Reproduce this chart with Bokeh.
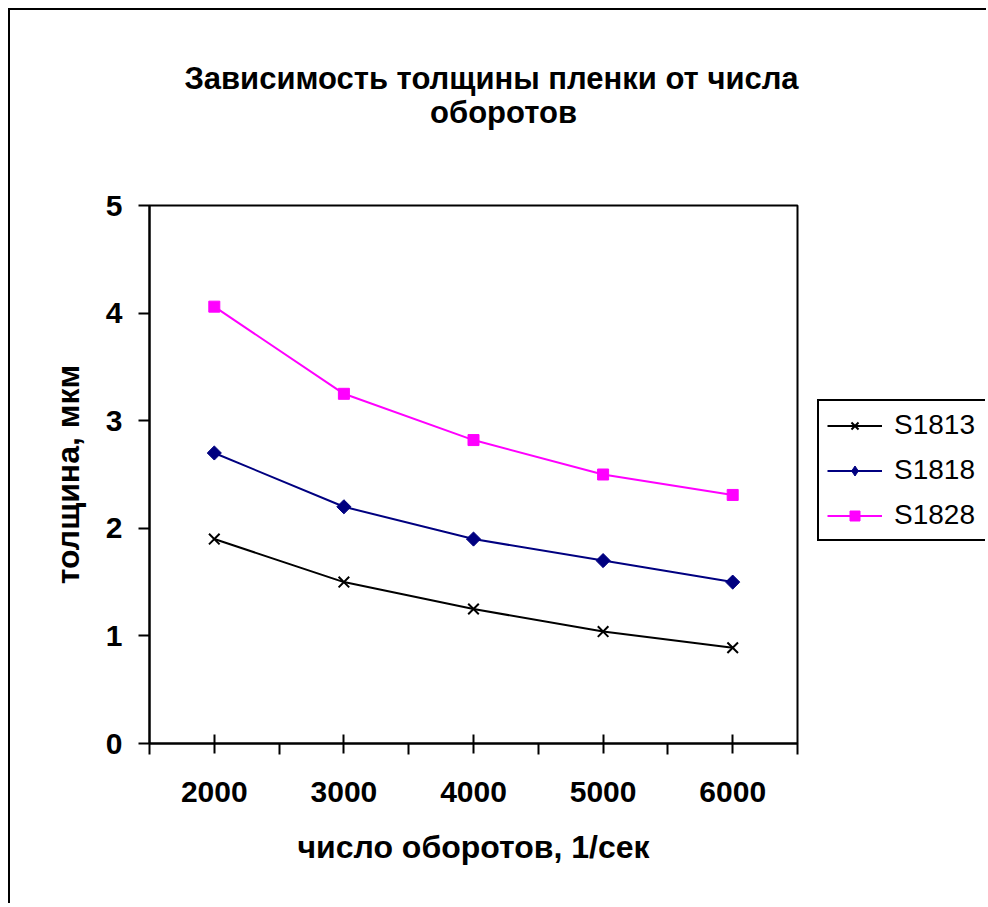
import math
from bokeh.plotting import figure
from bokeh.models import Range1d, FixedTicker, Legend, LegendItem
from bokeh.layouts import row, column
from bokeh.embed import file_html
from bokeh.resources import INLINE

rpm = [2000, 3000, 4000, 5000, 6000]
boundaries = [1500, 2500, 3500, 4500, 5500, 6500]
s1813 = [1.9, 1.5, 1.25, 1.04, 0.89]
s1818 = [2.7, 2.2, 1.9, 1.7, 1.5]
s1828 = [4.06, 3.25, 2.82, 2.5, 2.31]
y_ticks = [0, 1, 2, 3, 4, 5]
series_names = ["S1813", "S1818", "S1828"]
title_lines = ["Зависимость толщины пленки от числа", "оборотов"]

FONT = "Liberation Sans"
NAVY = "#000080"
MAGENTA = "#FF00FF"

# ---- title strip (pixel-like coordinates, y downward) ----
pt = figure(width=976, height=130, output_backend="svg", toolbar_location=None,
            x_range=Range1d(0, 976), y_range=Range1d(130, 0),
            x_axis_type=None, y_axis_type=None,
            min_border_left=0, min_border_right=0, min_border_top=0, min_border_bottom=0)
pt.grid.visible = False
pt.outline_line_color = None
pt.background_fill_color = "white"
pt.border_fill_color = "white"
pt.text(x=[481, 493], y=[68, 102], text=title_lines, text_align="center",
        text_baseline="middle", text_font_size="31px", text_font_style="bold",
        text_color="black", text_font={"value": FONT})

# ---- main plot ----
p = figure(frame_width=648, frame_height=538, output_backend="svg", toolbar_location=None,
           x_range=Range1d(1500, 6500), y_range=Range1d(0, 5),
           min_border_left=139, min_border_top=65, min_border_right=10,
           min_border_bottom=160, title=None)

p.grid.visible = False
p.outline_line_color = "black"
p.outline_line_width = 2
p.background_fill_color = "white"
p.border_fill_color = "white"

xa = p.xaxis[0]
xa.ticker = FixedTicker(ticks=rpm, minor_ticks=boundaries)
xa.axis_label = "число оборотов, 1/сек"
xa.axis_line_width = 2
xa.axis_line_color = "black"
xa.major_tick_line_width = 2
xa.major_tick_line_color = "black"
xa.major_tick_in = 9
xa.major_tick_out = 10
xa.minor_tick_line_width = 2
xa.minor_tick_line_color = "black"
xa.minor_tick_in = 0
xa.minor_tick_out = 11
xa.major_label_text_font = FONT
xa.major_label_text_font_size = "30px"
xa.major_label_text_font_style = "bold"
xa.major_label_text_color = "black"
xa.major_label_standoff = 27
xa.axis_label_text_font = FONT
xa.axis_label_text_font_size = "32px"
xa.axis_label_text_font_style = "bold"
xa.axis_label_text_color = "black"
xa.axis_label_standoff = 24

ya = p.yaxis[0]
ya.ticker = FixedTicker(ticks=y_ticks, minor_ticks=[])
ya.axis_label = "толщина, мкм"
ya.axis_line_width = 2
ya.axis_line_color = "black"
ya.major_tick_line_width = 2
ya.major_tick_line_color = "black"
ya.major_tick_in = 0
ya.major_tick_out = 11
ya.major_label_text_font = FONT
ya.major_label_text_font_size = "30px"
ya.major_label_text_font_style = "bold"
ya.major_label_text_color = "black"
ya.major_label_standoff = 16
ya.axis_label_text_font = FONT
ya.axis_label_text_font_size = "32px"
ya.axis_label_text_font_style = "bold"
ya.axis_label_text_color = "black"
ya.axis_label_standoff = 17


def draw_series(fig, ys, kind, for_legend=False):
    if kind == 0:
        ln = fig.line(rpm, ys, line_color="black", line_width=2)
        mk = fig.scatter(rpm, ys, marker="x", size=18 if for_legend else 15,
                         line_color="black", line_width=2)
    elif kind == 1:
        ln = fig.line(rpm, ys, line_color=NAVY, line_width=2)
        if for_legend:
            mk = fig.scatter(rpm, ys, marker="diamond", size=17,
                             fill_color=NAVY, line_color=NAVY)
        else:
            mk = fig.scatter(rpm, ys, marker="square", size=10, angle=math.pi / 4,
                             fill_color=NAVY, line_color=NAVY)
    else:
        ln = fig.line(rpm, ys, line_color=MAGENTA, line_width=2)
        mk = fig.scatter(rpm, ys, marker="square", size=11, fill_color=MAGENTA,
                         line_color=MAGENTA)
    return [ln, mk]


for k, ys in enumerate([s1813, s1818, s1828]):
    draw_series(p, ys, k)

# ---- legend strip to the right of the plot area (frame aligned with main plot) ----
pl = figure(width=178, frame_height=538, output_backend="svg", toolbar_location=None,
            x_range=Range1d(0, 1), y_range=Range1d(0, 1),
            x_axis_type=None, y_axis_type=None,
            min_border_left=0, min_border_right=0, min_border_top=65, min_border_bottom=160)
pl.grid.visible = False
pl.outline_line_color = None
pl.background_fill_color = "white"
pl.border_fill_color = "white"

# same series drawn outside this strip's visible range; used only as legend glyphs
legend_items = []
for k, ys in enumerate([s1813, s1818, s1828]):
    legend_items.append(LegendItem(label=series_names[k],
                                   renderers=draw_series(pl, ys, k, for_legend=True)))

legend = Legend(items=legend_items, location=(10, 202))
legend.label_text_font = FONT
legend.label_text_font_size = "28px"
legend.label_text_color = "black"
legend.glyph_width = 55
legend.glyph_height = 25
legend.label_height = 25
legend.label_width = 85
legend.spacing = 13
legend.padding = 8
legend.margin = 0
legend.label_standoff = 12
legend.border_line_color = "black"
legend.border_line_alpha = 1
legend.border_line_width = 2
legend.background_fill_color = "white"
legend.background_fill_alpha = 1
pl.add_layout(legend, "center")

layout = column(pt, row(p, pl),
                styles={"border-left": "2px solid black", "border-top": "2px solid black",
                        "margin-left": "8px", "margin-top": "8px"})

open("out.html", "w").write(file_html(layout, INLINE))
